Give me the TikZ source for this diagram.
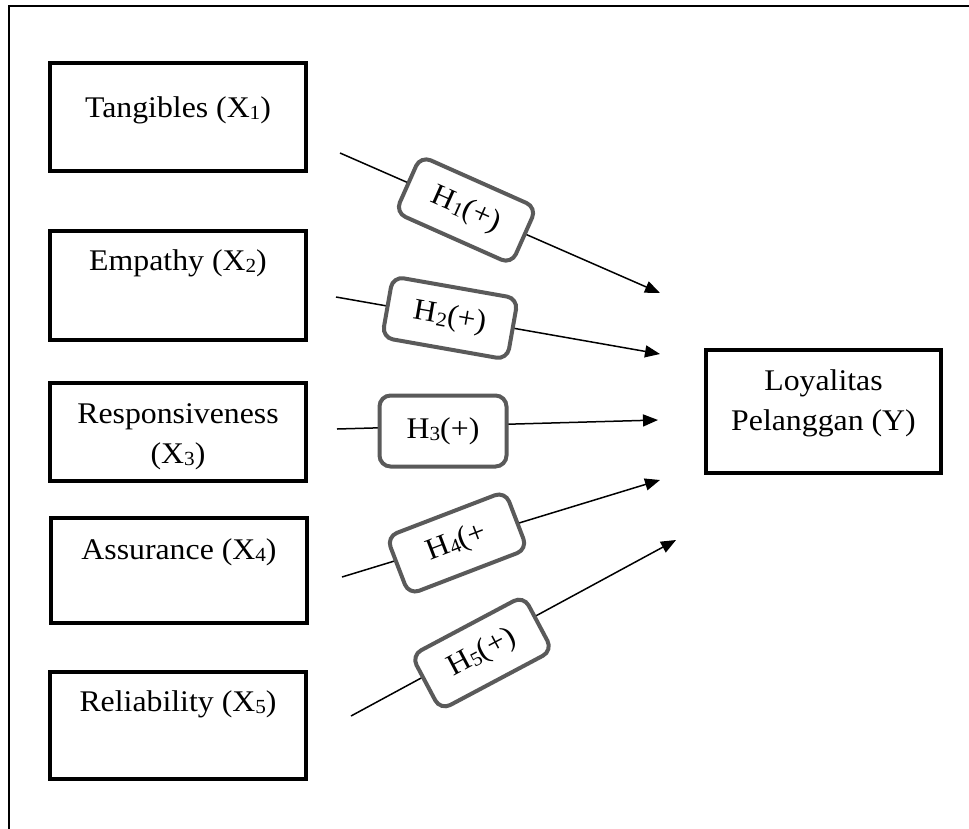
\documentclass[tikz,border=0pt]{standalone}
\usepackage{fontspec}
\setmainfont{Liberation Serif}[FakeStretch=1.06]
\usetikzlibrary{arrows.meta}
\definecolor{hgray}{RGB}{90,90,90}
\newcommand\subx[1]{\raisebox{-2.5pt}{\fontsize{20}{20}\selectfont #1}}
\newcommand\boxtxt[4]{\parbox[c][#2pt][t]{#1pt}{\centering\fontsize{30}{40}\selectfont\rule{0pt}{#3pt}#4}}
\begin{document}
\begin{tikzpicture}[x=1pt,y=-1pt,
  lbox/.style={draw=black, line width=4pt, inner sep=0pt, fill=white},
  hbox/.style={draw=hgray, line width=4pt, rounded corners=11pt, fill=white,
    inner sep=0pt, minimum width=127pt, minimum height=62pt,
    font=\fontsize{30}{36}\selectfont},
  conn/.style={line width=1.5pt, -{Triangle[length=15pt,width=12pt]}}]
\useasboundingbox (0,0) rectangle (969,828);
\clip (0,0) rectangle (969,828);
\draw[line width=2pt] (9,5.5) rectangle (990,850);

% variable boxes
\node[lbox] (x1) at (178,117)   {\boxtxt{256}{108}{54}{Tangibles (X\subx{1})}};
\node[lbox] (x2) at (178,285.5) {\boxtxt{256}{109}{39}{Empathy (X\subx{2})}};
\node[lbox] (x3) at (178,432)   {\boxtxt{256}{98}{40}{Responsiveness\\(X\subx{3})}};
\node[lbox] (x4) at (179,570.5) {\boxtxt{256}{105}{41}{Assurance (X\subx{4})}};
\node[lbox] (x5) at (178,725.5) {\boxtxt{256}{107}{39}{Reliability (X\subx{5})}};
\node[lbox] (y)  at (823.5,411.5) {\boxtxt{235}{123}{40}{Loyalitas\\Pelanggan (Y)}};

% connector ends
\coordinate (s1) at (340,153); \coordinate (e1) at (660,293);
\coordinate (s2) at (336,297); \coordinate (e2) at (660,354);
\coordinate (s3) at (337,429); \coordinate (e3) at (658,420);
\coordinate (s4) at (342,577); \coordinate (e4) at (660,480);
\coordinate (s5) at (351,716); \coordinate (e5) at (676,540);

\draw[conn] (s1) -- (e1);
\draw[conn] (s2) -- (e2);
\draw[conn] (s3) -- (e3);
\draw[conn] (s4) -- (e4);
\draw[conn] (s5) -- (e5);

% hypothesis boxes
\node[hbox, rotate=-24] (h1) at (466,210) {H\subx{1}(+)};
\node[hbox, rotate=-10] (h2) at (450,318) {H\subx{2}(+)};
\node[hbox, minimum height=71pt] (h3) at (443,431) {H\subx{3}(+)};
\node[hbox, rotate=21] (h4) at (457,543) {H\subx{4}(+};
\node[hbox, rotate=28] (h5) at (482,653) {H\subx{5}(+)};
\end{tikzpicture}
\end{document}
